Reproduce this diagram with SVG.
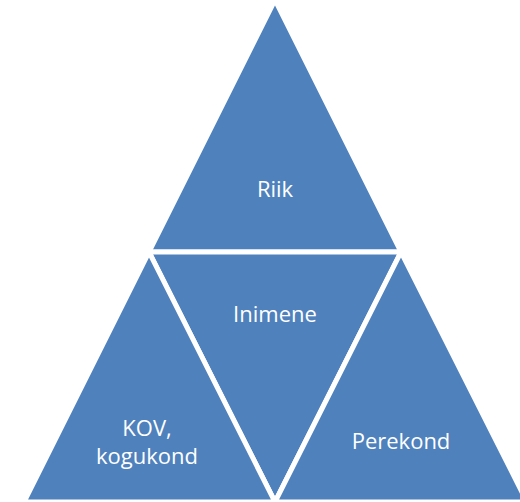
<svg xmlns="http://www.w3.org/2000/svg" width="520" height="502" viewBox="0 0 520 502">
<style>
.tri{fill:#4F81BD;stroke:#FFFFFF;stroke-width:5;stroke-linejoin:miter}
.lbl{font-family:"Open Sans","Liberation Sans",sans-serif;font-size:22px;fill:#FFFFFF;text-anchor:middle}
</style>
<rect width="520" height="502" fill="#FFFFFF"/>
<g id="riik">
<polygon class="tri" points="275,0 401,252 149,252"/>
<text class="lbl" x="275" y="197">Riik</text>
</g>
<g id="inimene">
<polygon class="tri" points="149,252 401,252 275,502"/>
<text class="lbl" x="275" y="322">Inimene</text>
</g>
<g id="kov">
<polygon class="tri" points="149,252 275,502 24,502"/>
<text class="lbl" x="147" y="436">KOV,</text>
<text class="lbl" x="147" y="464">kogukond</text>
</g>
<g id="perekond">
<polygon class="tri" points="401,252 527,502 275,502"/>
<text class="lbl" x="401" y="449">Perekond</text>
</g>
<g id="connectors"></g>
</svg>
